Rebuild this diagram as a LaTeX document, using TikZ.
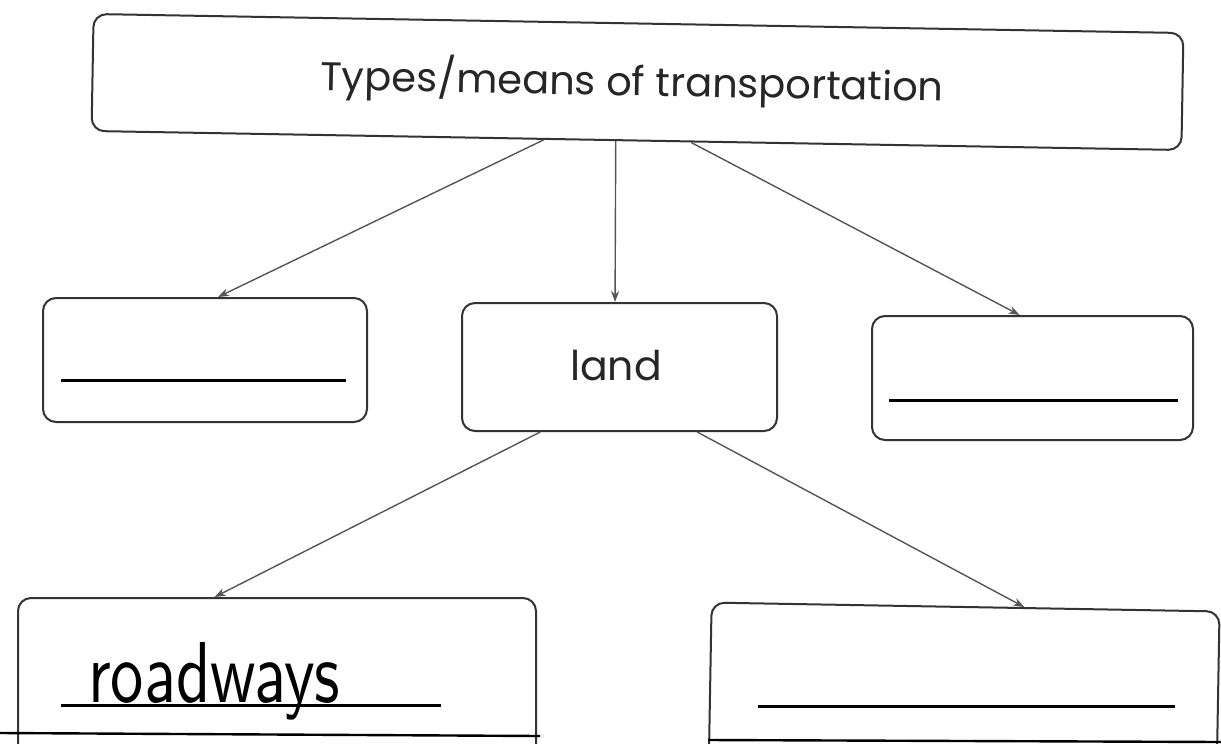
\documentclass[tikz,border=0pt]{standalone}
\usepackage{fontspec}
\setmainfont{Poppins}
\usepackage{graphicx}
\usetikzlibrary{arrows.meta,calc}
\definecolor{ink}{HTML}{333333}
\definecolor{arrink}{HTML}{555555}
\tikzset{
  boxnode/.style={draw=ink, line width=2pt, rounded corners=13pt, inner sep=0pt, fill=none},
  conn/.style={draw=arrink, line width=1.4pt, -{Stealth[length=11pt,width=8pt]}},
  blank/.style={line width=3pt, black},
  edge/.style={line width=2.4pt, black}
}
\begin{document}
\begin{tikzpicture}[x=1pt,y=-1pt]
\useasboundingbox (0,0) rectangle (1221,744);
% top box
\node[boxnode, rotate=-1, minimum width=1090pt, minimum height=117pt] (top) at (637.5,82) {};
\node[font=\fontsize{40pt}{46pt}\selectfont, rotate=-1, text=black!85] (title) at (632,82) {Types/means of transportation};
% middle row
\node[boxnode, minimum width=324pt, minimum height=124pt] (L) at (205,360) {};
\node[boxnode, minimum width=315pt, minimum height=128pt] (M) at (619.5,367) {};
\node[font=\fontsize{41pt}{46pt}\selectfont, text=black!85] (land) at (616,366) {land};
\node[boxnode, minimum width=321pt, minimum height=124pt] (R) at (1032.5,378) {};
\draw[blank] ($(L.west)+(19,20)$) coordinate (l1) -- ($(L.east)+(-22,20)$) coordinate (l2);
\draw[blank] ($(R.west)+(18,22)$) coordinate (r1) -- ($(R.east)+(-16,22)$) coordinate (r2);
% bottom row (cut off by page edge)
\node[boxnode, minimum width=518pt, minimum height=180pt] (BL) at (277,688) {};
\node[boxnode, rotate=-1, minimum width=508pt, minimum height=180pt] (BR) at (964,697) {};
\draw[blank] ($(BL.west)+(44,17)$) coordinate (b1) -- ($(BL.west)+(424,17)$) coordinate (b2);
\draw[blank] ($(BR.west)+(49,14)$) coordinate (c1) -- ($(BR.west)+(466,14)$) coordinate (c2);
\node[anchor=base west, inner sep=0pt, text=black] (hand) at (88,702)
  {\resizebox{252pt}{60pt}{\sffamily roadways}};
\draw[edge] (0,733) coordinate (e1) -- (540,736) coordinate (e2);
\draw[edge] (708,740) coordinate (e3) -- (1221,742) coordinate (e4);
% connectors
\draw[conn] ($(top.south west)!0.415!(top.south east)$) -- ($(L.north west)!0.54!(L.north east)$);
\draw[conn] ($(top.south west)!0.481!(top.south east)$) -- ($(M.north west)!0.486!(M.north east)$);
\draw[conn] ($(top.south west)!0.55!(top.south east)$) -- ($(R.north west)!0.46!(R.north east)$);
\draw[conn] ($(M.south west)!0.25!(M.south east)$) -- ($(BL.north west)!0.38!(BL.north east)$);
\draw[conn] ($(M.south west)!0.745!(M.south east)$) -- ($(BR.north west)!0.615!(BR.north east)$);
\end{tikzpicture}
\end{document}
